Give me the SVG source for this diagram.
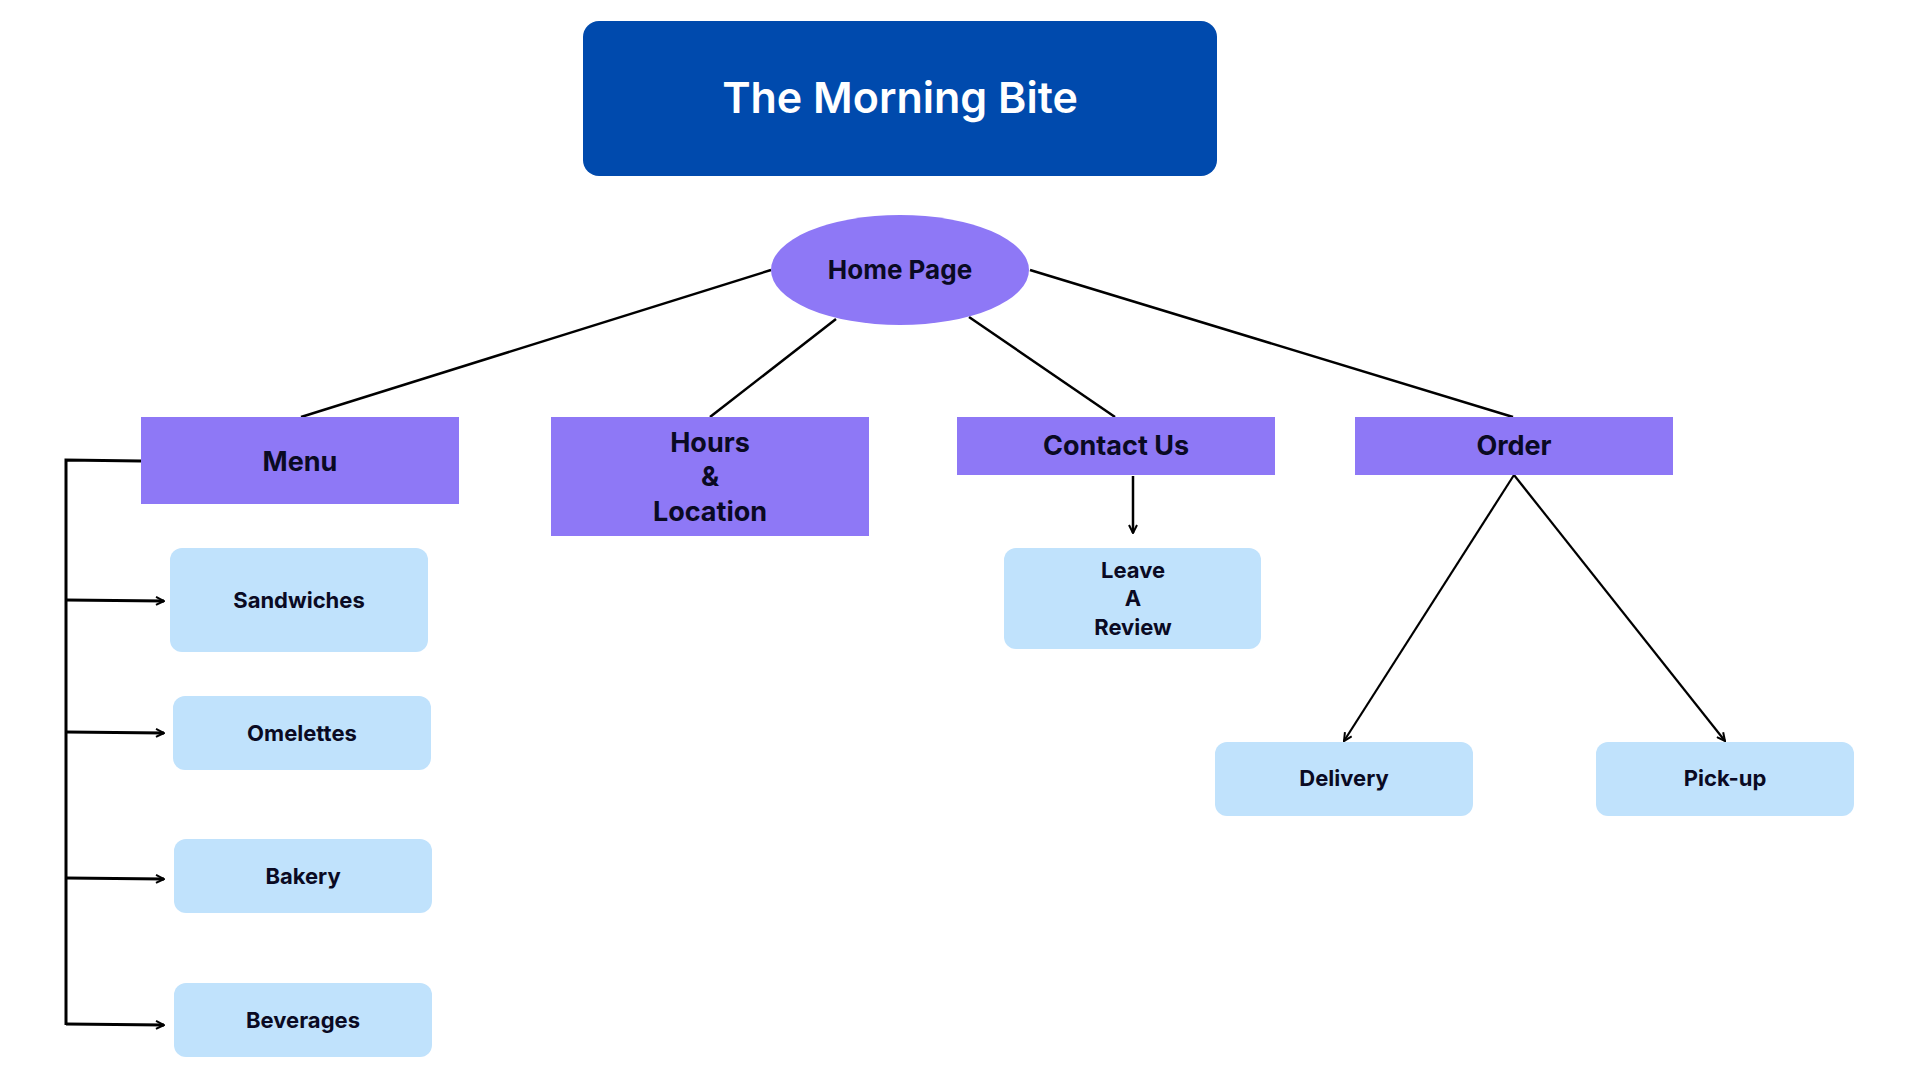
<svg xmlns="http://www.w3.org/2000/svg" width="1920" height="1080" viewBox="0 0 1920 1080">
<defs>
<style>
.lvl1{fill:#8E78F6}
.leaf{fill:#C0E2FC}
.t{font-family:Inter,"Open Sans","Liberation Sans",sans-serif;font-weight:700;fill:#0A0A23;text-anchor:middle}
.big{font-size:27px}
.small{font-size:22px}
.ln{stroke:#000;fill:none;stroke-width:2.5}
.ln3{stroke:#000;fill:none;stroke-width:3}
.ln2{stroke:#000;fill:none;stroke-width:2.2}
</style>
<marker id="ah" viewBox="0 0 10 10" refX="9" refY="5" markerWidth="10" markerHeight="10" markerUnits="userSpaceOnUse" orient="auto">
<path d="M1,1 L9,5 L1,9" fill="none" stroke="#000" stroke-width="2"/>
</marker>
</defs>
<rect width="1920" height="1080" fill="#fff"/>
<g id="connectors">
<line class="ln" x1="771" y1="270" x2="301" y2="417"/>
<line class="ln" x1="836" y1="319" x2="710" y2="417"/>
<line class="ln" x1="969" y1="317" x2="1115" y2="417"/>
<line class="ln" x1="1030" y1="270" x2="1513" y2="417"/>
<polyline class="ln3" points="141,461 66,460 66,1025"/>
<line class="ln3" x1="66" y1="600" x2="164" y2="601" marker-end="url(#ah)"/>
<line class="ln3" x1="66" y1="732" x2="164" y2="733" marker-end="url(#ah)"/>
<line class="ln3" x1="66" y1="878" x2="164" y2="879" marker-end="url(#ah)"/>
<line class="ln3" x1="66" y1="1024" x2="164" y2="1025" marker-end="url(#ah)"/>
<line class="ln" x1="1133" y1="476" x2="1133" y2="533" marker-end="url(#ah)"/>
<line class="ln2" x1="1514" y1="475" x2="1344" y2="741" marker-end="url(#ah)"/>
<line class="ln2" x1="1514" y1="475" x2="1725" y2="741" marker-end="url(#ah)"/>
</g>
<g id="title">
<rect x="583" y="21" width="634" height="155" rx="16" fill="#004AAD"/>
<text x="900" y="113" style="font-family:Inter,'Open Sans','Liberation Sans',sans-serif;font-weight:600;font-size:43px;fill:#fff;text-anchor:middle">The Morning Bite</text>
</g>
<g id="home">
<ellipse cx="900" cy="270" rx="129" ry="55" fill="#8E78F6"/>
<text class="t" x="900" y="279" style="font-size:26px">Home Page</text>
</g>
<g id="menu">
<rect class="lvl1" x="141" y="417" width="318" height="87"/>
<text class="t big" x="300" y="471">Menu</text>
</g>
<g id="hours">
<rect class="lvl1" x="551" y="417" width="318" height="119"/>
<text class="t big" x="710" y="452">Hours</text>
<text class="t big" x="710" y="486">&amp;</text>
<text class="t big" x="710" y="521">Location</text>
</g>
<g id="contact">
<rect class="lvl1" x="957" y="417" width="318" height="58"/>
<text class="t big" x="1116" y="455">Contact Us</text>
</g>
<g id="order">
<rect class="lvl1" x="1355" y="417" width="318" height="58"/>
<text class="t big" x="1514" y="455">Order</text>
</g>
<g id="sandwiches">
<rect class="leaf" x="170" y="548" width="258" height="104" rx="12"/>
<text class="t small" x="299" y="608">Sandwiches</text>
</g>
<g id="omelettes">
<rect class="leaf" x="173" y="696" width="258" height="74" rx="12"/>
<text class="t small" x="302" y="741">Omelettes</text>
</g>
<g id="bakery">
<rect class="leaf" x="174" y="839" width="258" height="74" rx="12"/>
<text class="t small" x="303" y="884">Bakery</text>
</g>
<g id="beverages">
<rect class="leaf" x="174" y="983" width="258" height="74" rx="12"/>
<text class="t small" x="303" y="1028">Beverages</text>
</g>
<g id="review">
<rect class="leaf" x="1004" y="548" width="257" height="101" rx="12"/>
<text class="t small" x="1133" y="578">Leave</text>
<text class="t small" x="1133" y="606">A</text>
<text class="t small" x="1133" y="635">Review</text>
</g>
<g id="delivery">
<rect class="leaf" x="1215" y="742" width="258" height="74" rx="12"/>
<text class="t small" x="1344" y="786">Delivery</text>
</g>
<g id="pickup">
<rect class="leaf" x="1596" y="742" width="258" height="74" rx="12"/>
<text class="t small" x="1725" y="786">Pick-up</text>
</g>
</svg>
